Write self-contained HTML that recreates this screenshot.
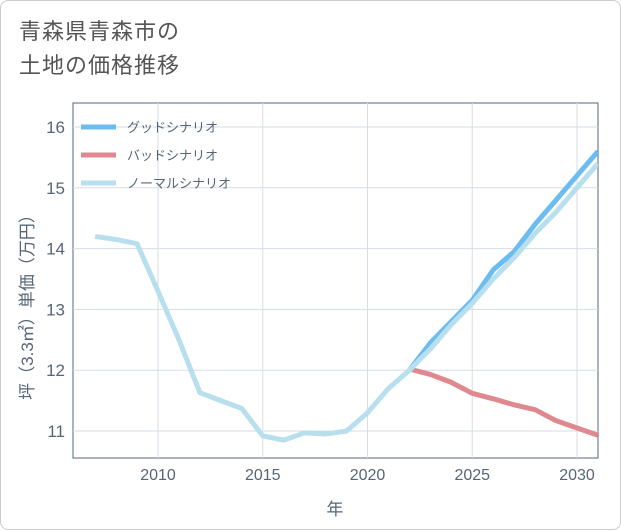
<!DOCTYPE html>
<html><head><meta charset="utf-8"><style>
body{margin:0;background:#fff;font-family:"Liberation Sans","Noto Sans CJK JP",sans-serif;}
#card{position:absolute;left:0;top:0;width:619px;height:528px;border:1px solid #ccc;border-radius:8px;background:#fff;}
#title{position:absolute;left:18px;top:14px;font-size:22px;line-height:34px;color:#555;letter-spacing:1px;}
</style></head><body>
<div id="card">
<div id="title">青森県青森市の<br>土地の価格推移</div>
<svg id="chart" width="621" height="530" style="position:absolute;left:0;top:0"></svg>
</div>
<script>
const years=[2007,2008,2009,2010,2011,2012,2013,2014,2015,2016,2017,2018,2019,2020,2021,2022,2023,2024,2025,2026,2027,2028,2029,2030,2031];
const normal=[14.2,14.15,14.08,13.3,12.5,11.63,11.5,11.37,10.92,10.85,10.97,10.95,11.0,11.3,11.7,12.0,12.35,12.75,13.1,13.5,13.85,14.25,14.6,15.0,15.4];
const goodYears=[2022,2023,2024,2025,2026,2027,2028,2029,2030,2031];
const good=[12.0,12.45,12.8,13.15,13.65,13.95,14.4,14.8,15.2,15.6];
const bad=[12.02,11.93,11.8,11.62,11.53,11.43,11.35,11.17,11.05,10.93];
const xTicks=[2010,2015,2020,2025,2030];
const yTicks=[11,12,13,14,15,16];
const L=72,R=597,T=102,B=457;
const x=v=>157+(v-2010)*(576-157)/20;
const y=v=>430-(v-11)*(430-126)/5;
const svg=document.getElementById('chart');const NS='http://www.w3.org/2000/svg';
function el(t,a,p){const e=document.createElementNS(NS,t);for(const k in a)e.setAttribute(k,a[k]);(p||svg).appendChild(e);return e;}
const bg=el('rect',{x:L,y:T,width:R-L,height:B-T,fill:'#fff',stroke:'#556677','stroke-width':1});


xTicks.forEach(t=>{const g=el('line',{x1:x(t),x2:x(t),y1:T,y2:B,stroke:'#d5dde5'});


const s=el('text',{x:x(t),y:B+22,'text-anchor':'middle','font-size':16,fill:'#556677'});s.textContent=t;

});
yTicks.forEach(t=>{const g=el('line',{x1:L,x2:R,y1:y(t),y2:y(t),stroke:'#d5dde5'});


const s=el('text',{x:L-8,y:y(t)+6,'text-anchor':'end','font-size':17,fill:'#556677'});s.textContent=t;

});
const cp=el('clipPath',{id:'cp'});el('rect',{x:L,y:T,width:R-L,height:B-T},cp);
function line(xs,vs,c,name){const p=el('polyline',{points:xs.map((v,i)=>x(v)+','+y(vs[i])).join(' '),fill:'none',stroke:c,'stroke-width':5,'stroke-linejoin':'round','clip-path':'url(#cp)'});

}
line(goodYears,good,'#6bbcf0','good-scenario-line');
line(goodYears,bad,'#e08890','bad-scenario-line');
line(years,normal,'#b8dfee','normal-scenario-line');
const leg=[['グッドシナリオ','#6bbcf0'],['バッドシナリオ','#e08890'],['ノーマルシナリオ','#b8dfee']];
leg.forEach((d,i)=>{const yy=126+i*28;el('line',{x1:80,x2:115,y1:yy,y2:yy,stroke:d[1],'stroke-width':5});
const s=el('text',{x:126,y:yy+5,'font-size':13,fill:'#556677'});s.textContent=d[0];

});
const xt=el('text',{x:334,y:514,'text-anchor':'middle','font-size':17,fill:'#556677'});xt.textContent='年';


const yt=el('text',{x:0,y:0,'text-anchor':'middle','font-size':17,fill:'#556677',transform:'translate(32,302) rotate(-90)'});yt.textContent='坪（3.3㎡）単価（万円）';


</script>
</body></html>
